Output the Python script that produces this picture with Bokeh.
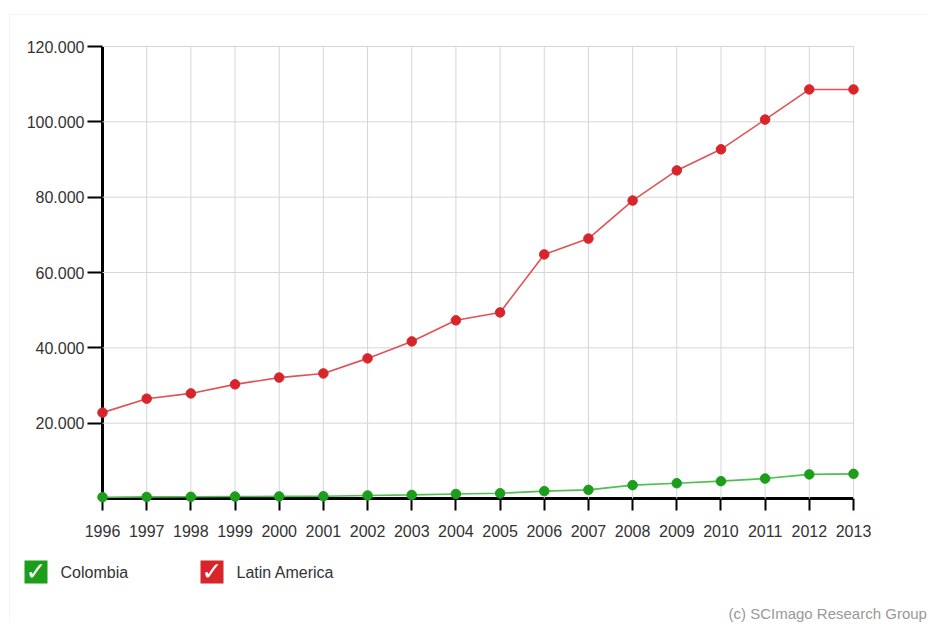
from bokeh.plotting import figure
from bokeh.models import Range1d, FixedTicker, ColumnDataSource, Label, BoxAnnotation
from bokeh.embed import file_html
from bokeh.resources import INLINE

years = list(range(1996, 2014))
latin_america = [22800, 26500, 27900, 30300, 32100, 33200, 37200, 41700, 47300, 49400,
                 64800, 69000, 79100, 87100, 92700, 100600, 108600, 108600]
colombia = [350, 420, 450, 520, 560, 600, 800, 950, 1200, 1400,
            1950, 2300, 3550, 4060, 4600, 5300, 6400, 6550]
y_ticks = [20000, 40000, 60000, 80000, 100000, 120000]
y_tick_labels = ["20.000", "40.000", "60.000", "80.000", "100.000", "120.000"]
series_names = ["Colombia", "Latin America"]
series_colors = ["#1c9e1c", "#d8252b"]
line_colors = ["#4fbf4f", "#e25155"]
credit = "(c) SCImago Research Group"

FONT = "Liberation Sans"

# ---- layout (pixels on the canvas) ----
W, H = 927, 622
X_FIRST_PX, X_LAST_PX = 102, 853      # where the first / last year sit
Y_ZERO_PX, Y_TOP_PX = 498, 46         # where 0 and the top tick sit
ppx = (X_LAST_PX - X_FIRST_PX) / (years[-1] - years[0])
ppy = (Y_ZERO_PX - Y_TOP_PX) / y_ticks[-1]
x_range = Range1d(years[0] - X_FIRST_PX / ppx, years[-1] + (W - X_LAST_PX) / ppx)
y_range = Range1d(0 - (H - Y_ZERO_PX) / ppy, y_ticks[-1] + Y_TOP_PX / ppy)

p = figure(frame_width=W, frame_height=H, output_backend="svg", toolbar_location=None,
           title=None, x_range=x_range, y_range=y_range,
           min_border=0, min_border_left=0, min_border_right=0,
           min_border_top=0, min_border_bottom=0)
p.outline_line_color = None
p.background_fill_color = "white"
p.border_fill_color = "white"
p.grid.visible = False

# page frame (light border of the widget)
p.add_layout(BoxAnnotation(left=9, right=W + 20, top=H - 14, bottom=-20,
                           left_units="screen", right_units="screen",
                           top_units="screen", bottom_units="screen",
                           fill_alpha=0, line_color="#d9d9d9", line_width=1, level="underlay"))

# grid lines
p.segment(x0=years[1:], y0=[0] * (len(years) - 1), x1=years[1:],
          y1=[y_ticks[-1]] * (len(years) - 1), line_color="#d6d6d6", line_width=1)
p.segment(x0=[years[0]] * len(y_ticks), y0=y_ticks, x1=[years[-1]] * len(y_ticks),
          y1=y_ticks, line_color="#d6d6d6", line_width=1)

# axes drawn at x = first year and y = 0
p.xaxis.fixed_location = 0
p.yaxis.fixed_location = years[0]
p.xaxis.bounds = (years[0], years[-1])
p.yaxis.bounds = (0, y_ticks[-1])
p.xaxis.ticker = FixedTicker(ticks=years)
p.yaxis.ticker = FixedTicker(ticks=y_ticks)
p.yaxis.major_label_overrides = {t: l for t, l in zip(y_ticks, y_tick_labels)}
for ax in (p.xaxis, p.yaxis):
    ax.level = "underlay"
    ax.axis_line_color = "black"
    ax.axis_line_width = 3
    ax.major_tick_line_color = "black"
    ax.major_tick_line_width = 2
    ax.minor_tick_line_color = None
    ax.major_tick_in = 0
    ax.major_label_text_font = FONT
    ax.major_label_text_font_size = "16px"
    ax.major_label_text_color = "#333333"
p.yaxis.major_tick_out = 15
p.yaxis.major_label_standoff = 3
p.xaxis.major_tick_out = 12
p.xaxis.major_label_standoff = 14

for vals, c, lc in ((colombia, series_colors[0], line_colors[0]),
                    (latin_america, series_colors[1], line_colors[1])):
    src = ColumnDataSource(dict(x=years, y=vals))
    p.line("x", "y", source=src, line_color=lc, line_width=1.6)
    p.scatter("x", "y", source=src, size=9.5, fill_color=c, line_color=c)

# legend (check boxes) below the chart, screen units from the bottom-left corner
box_left = [24, 200]
text_left = [60, 236]
box_w = 23
box_bottom, box_top = H - 583, H - 560
for i in range(2):
    p.add_layout(BoxAnnotation(left=box_left[i], right=box_left[i] + box_w,
                               bottom=box_bottom, top=box_top,
                               left_units="screen", right_units="screen",
                               bottom_units="screen", top_units="screen",
                               fill_color=series_colors[i], fill_alpha=1, line_color=None))
    p.add_layout(Label(x=box_left[i] + box_w / 2, y=(box_bottom + box_top) / 2 + 1,
                       x_units="screen", y_units="screen", text="\u2713",
                       text_color="white", text_font="DejaVu Sans", text_font_size="25px",
                       text_font_style="normal", text_align="center", text_baseline="middle"))
    p.add_layout(Label(x=text_left[i], y=H - 572, x_units="screen", y_units="screen",
                       text=series_names[i], text_color="#333333", text_font=FONT,
                       text_font_size="16px", text_baseline="middle"))

p.add_layout(Label(x=728, y=H - 613, x_units="screen", y_units="screen", text=credit,
                   text_color="#999999", text_font=FONT, text_font_size="15px",
                   text_baseline="middle"))

open("out.html", "w").write(file_html(p, INLINE))
